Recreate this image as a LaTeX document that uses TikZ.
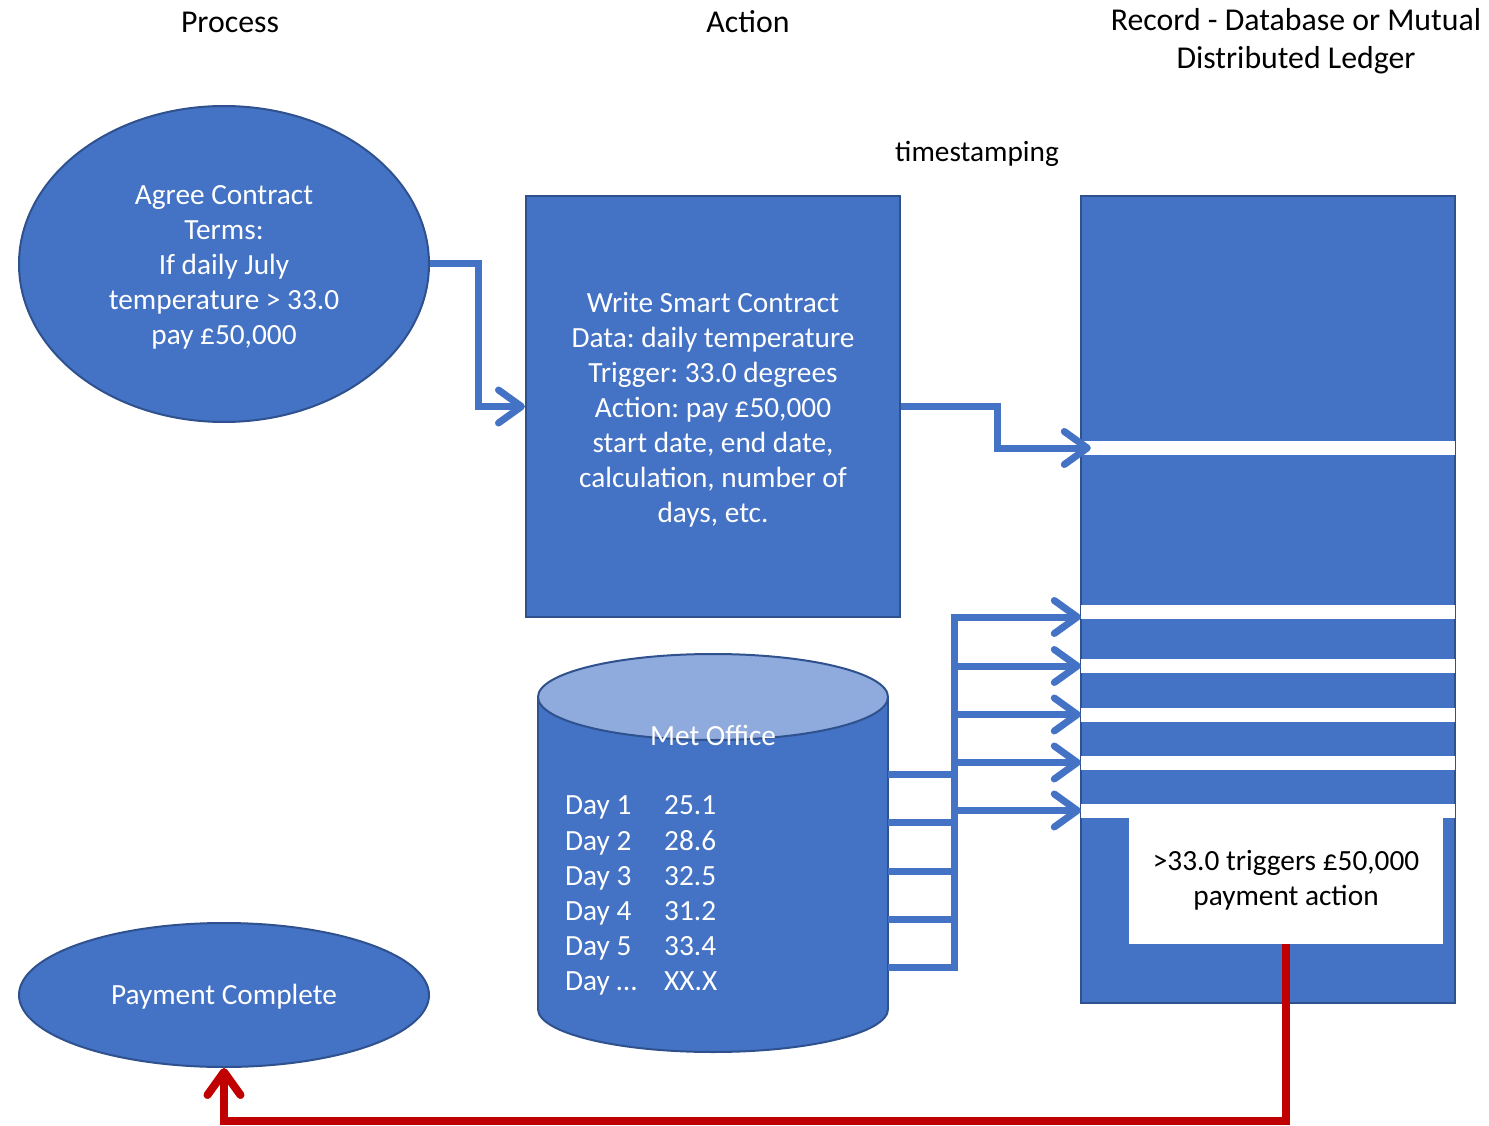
\documentclass[tikz,border=0pt]{standalone}
\usepackage{fontspec}
\setmainfont{Carlito}
\frenchspacing
\usetikzlibrary{arrows.meta,calc,shapes.geometric}
\definecolor{blu}{HTML}{4472C4}
\definecolor{bludark}{HTML}{2F528F}
\definecolor{blulight}{HTML}{8FAADC}
\definecolor{redc}{HTML}{C00000}
\begin{document}
\begin{tikzpicture}[x=1pt,y=-1pt,
  every node/.style={font=\fontsize{29.3}{35}\selectfont, inner sep=0pt},
  title/.style={text=black, align=center},
  bigtitle/.style={text=black, align=center, font=\fontsize{31.8}{38}\selectfont},
  bluebox/.style={fill=blu, draw=bludark, line width=2pt, text=white, align=center},
  oval/.style={ellipse, fill=blu, draw=bludark, line width=2pt, text=white, align=center},
  stripe/.style={fill=white, minimum width=374, minimum height=14},
  conn/.style={draw=blu, line width=7pt, -{Straight Barb[length=23pt,width=33pt,round]}},
  plain/.style={draw=blu, line width=7pt},
  redconn/.style={draw=redc, line width=8pt, -{Straight Barb[length=23pt,width=33pt,round]}},
  daytxt/.style={text=white, anchor=base west}
]
\useasboundingbox (0,0) rectangle (1489,1126);

% titles
\node[bigtitle] (tproc) at (230,22) {Process};
\node[bigtitle] (tact) at (748,22) {Action};
\node[bigtitle] (trec) at (1296,41) {Record - Database or Mutual\\Distributed Ledger};
\node[title] (tstamp) at (977,154) {timestamping};

% process ellipses
\node[oval, minimum width=410, minimum height=316] (agree) at (224,264)
  {\rule{0pt}{26pt}Agree Contract\\Terms:\\If daily July\\temperature > 33.0\\pay £50,000};
\node[oval, minimum width=410, minimum height=144] (done) at (224,995) {\rule{0pt}{24pt}Payment Complete};

% write smart contract
\node[bluebox, minimum width=374, minimum height=421] (write) at (713,406.5)
  {\rule{0pt}{26pt}Write Smart Contract\\Data: daily temperature\\Trigger: 33.0 degrees\\Action: pay £50,000\\start date, end date,\\calculation, number of\\days, etc.};

% ledger
\node[fill=blu, draw=bludark, line width=2pt, minimum width=374, minimum height=807] (ledger) at (1268,599.5) {};
\node[stripe] (s1) at (1268,448) {};
\node[stripe] (s2) at (1268,612) {};
\node[stripe] (s3) at (1268,666) {};
\node[stripe] (s4) at (1268,714.5) {};
\node[stripe] (s5) at (1268,762.5) {};
\node[stripe] (s6) at (1268,810.5) {};
\node[fill=white, minimum width=314, minimum height=127, align=center, text=black] (pay) at (1286,880)
  {>33.0 triggers £50,000\\payment action};

% Met Office cylinder
\fill[blu] (538,697) rectangle (888,1009);
\filldraw[fill=blu, draw=bludark, line width=2pt] (713,1009) ellipse [x radius=175, y radius=43];
\fill[blu] (537,697) rectangle (889,1009);
\draw[bludark, line width=2pt] (538,697) -- (538,1009) (888,697) -- (888,1009);
\filldraw[fill=blulight, draw=bludark, line width=2pt] (713,697) ellipse [x radius=175, y radius=43];
\node (met) at (713,853) [minimum width=350, minimum height=398] {};
\node[text=white] (metlbl) at (713,735) {Met Office};
\node[daytxt] (d1) at (565,814) {Day 1};
\node[daytxt] (v1) at (664,814) {25.1};
\node[daytxt] (d2) at (565,850) {Day 2};
\node[daytxt] (v2) at (664,850) {28.6};
\node[daytxt] (d3) at (565,885) {Day 3};
\node[daytxt] (v3) at (664,885) {32.5};
\node[daytxt] (d4) at (565,920) {Day 4};
\node[daytxt] (v4) at (664,920) {31.2};
\node[daytxt] (d5) at (565,955) {Day 5};
\node[daytxt] (v5) at (664,955) {33.4};
\node[daytxt] (d6) at (565,990) {Day …};
\node[daytxt] (v6) at (664,990) {XX.X};

% connectors
\draw[conn] (agree.east) -- ++(48,0) |- (write.west);
\draw[conn] (write.east) -- ++(96,0) |- ([xshift=10pt]s1.west);

\coordinate (bus) at (954,617);
\draw[plain] (met.east |- 0,774) -- (bus |- 0,774);
\draw[plain] (met.east |- 0,822) -- (bus |- 0,822);
\draw[plain] (met.east |- 0,871) -- (bus |- 0,871);
\draw[plain] (met.east |- 0,919) -- (bus |- 0,919);
\draw[conn] (met.east |- 0,967) -| (bus) -- (s2.west |- bus);
\draw[conn] (bus |- s3) -- (s3.west);
\draw[conn] (bus |- s4) -- (s4.west);
\draw[conn] (bus |- s5) -- (s5.west);
\draw[conn] (bus |- s6) -- (s6.west);

\draw[redconn] (pay.south) -- (pay.south |- 0,1121) -| (done.south);
\end{tikzpicture}
\end{document}
